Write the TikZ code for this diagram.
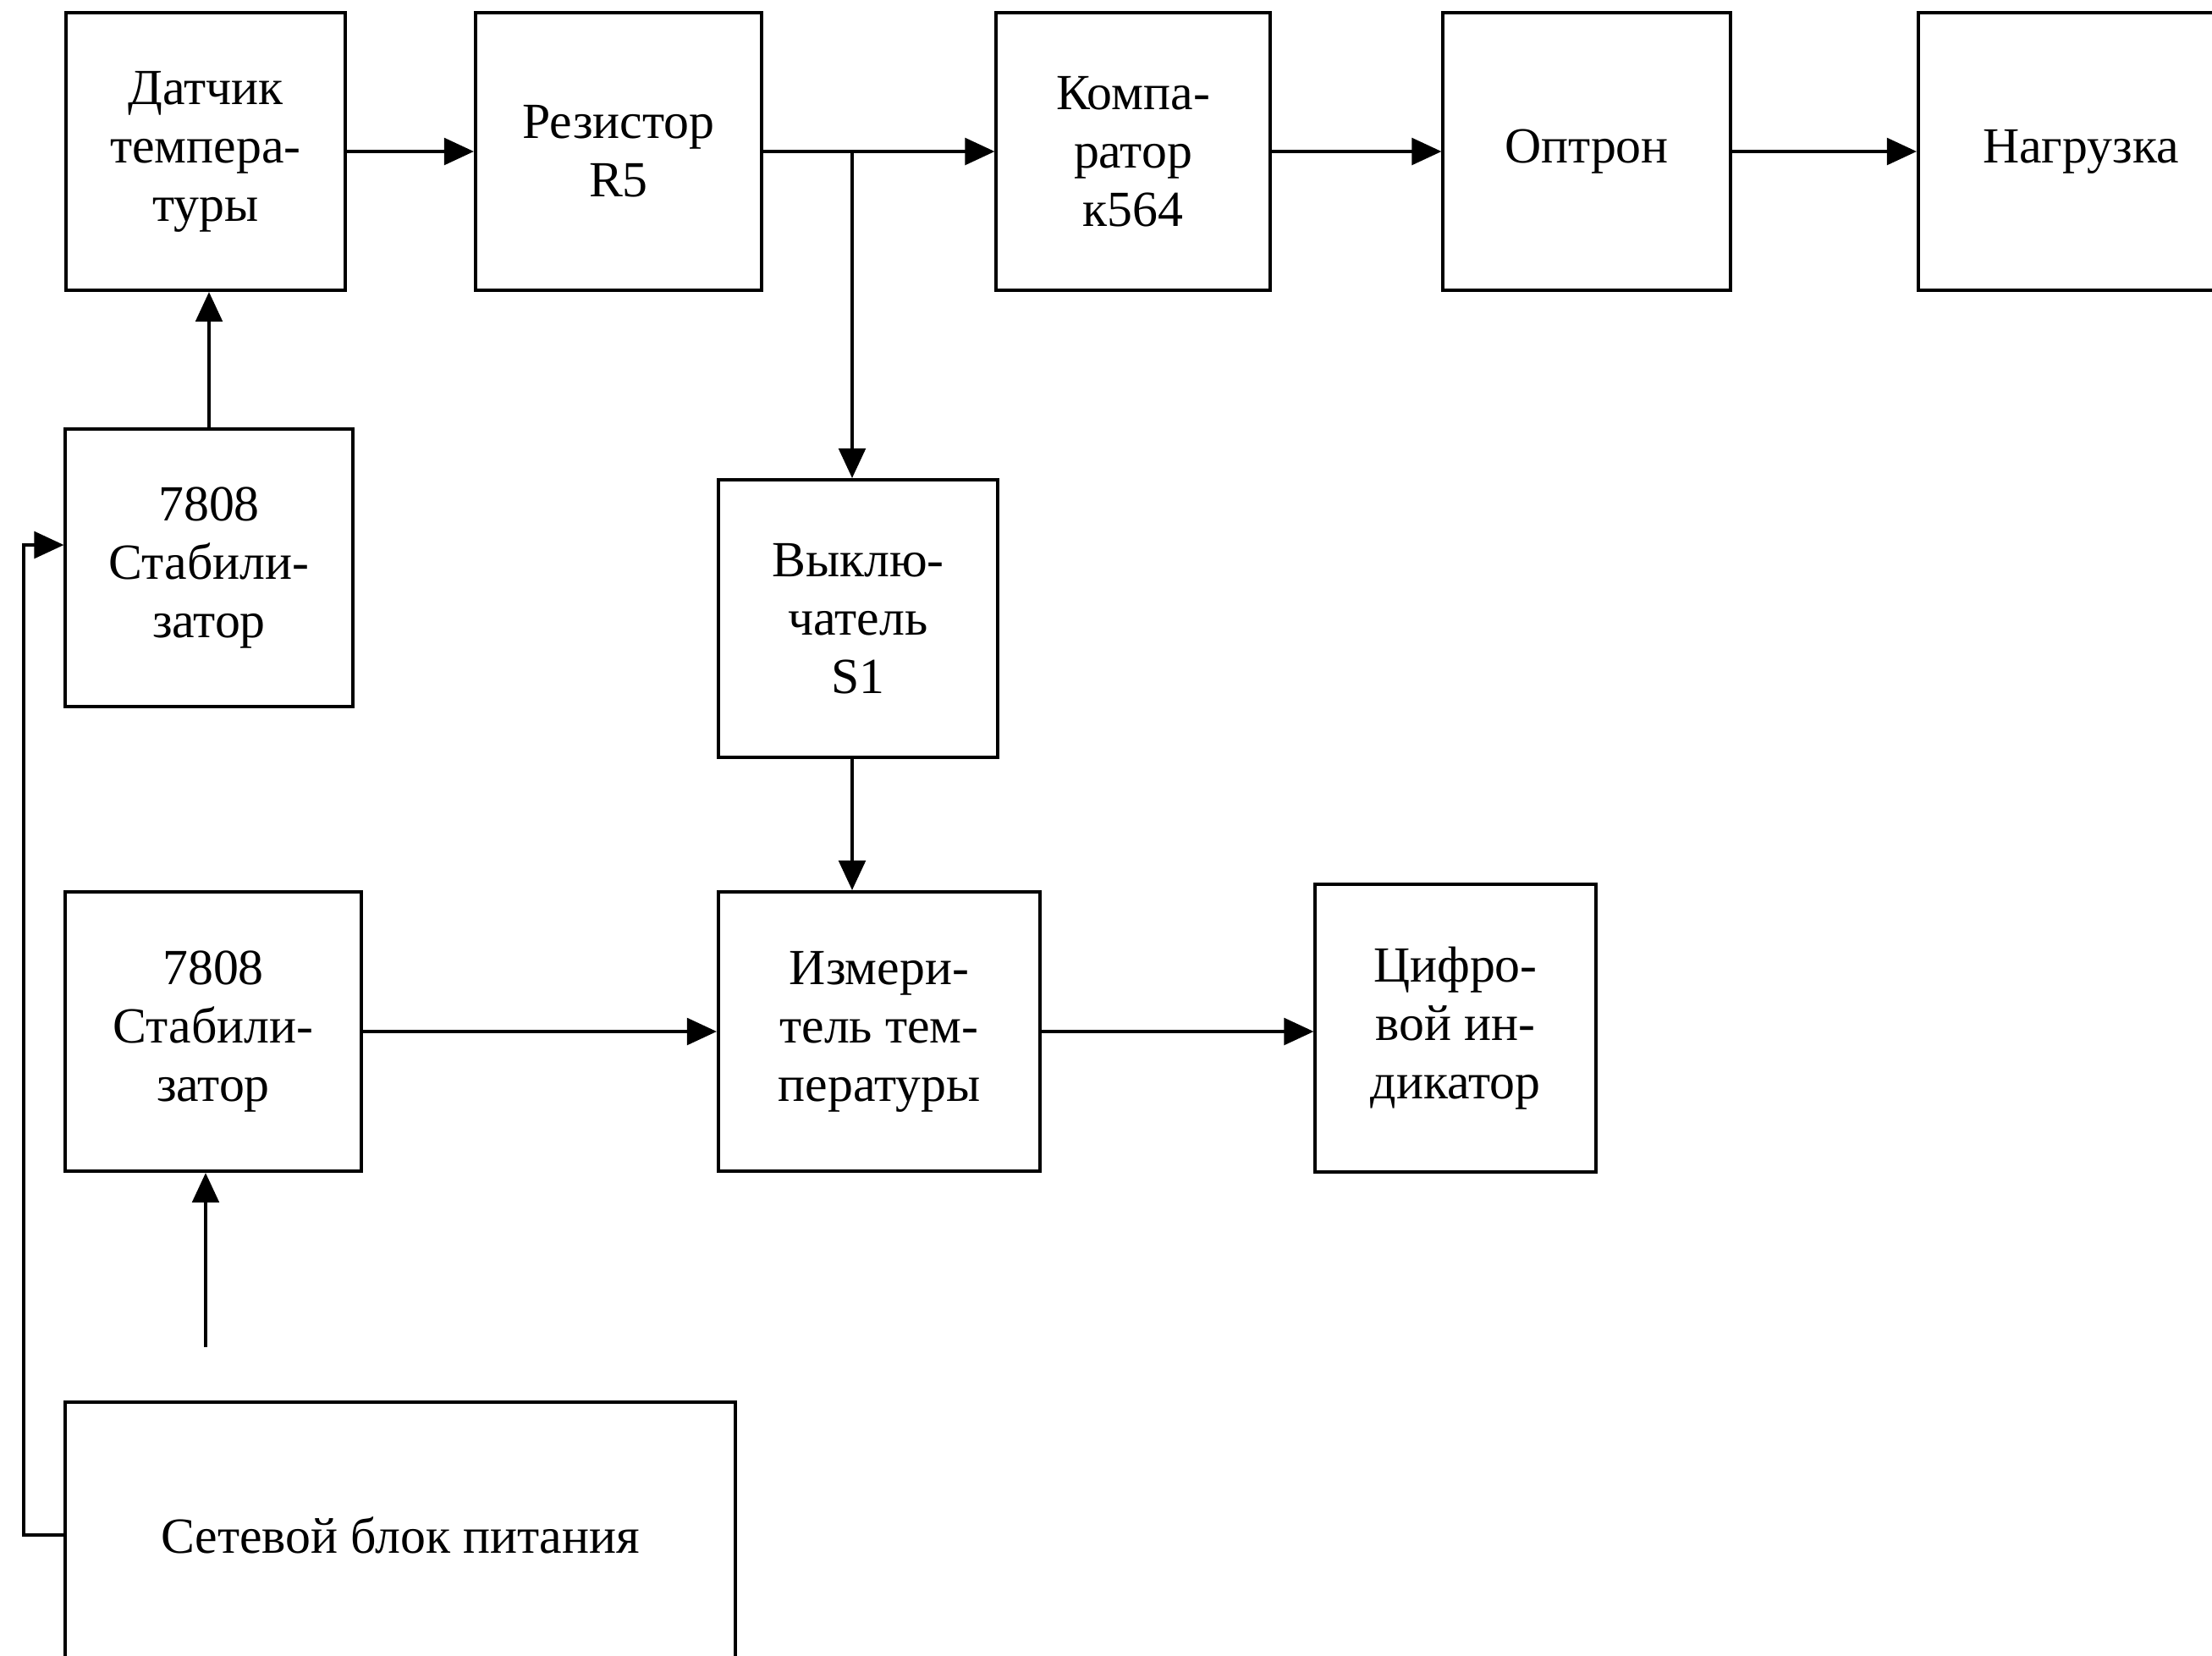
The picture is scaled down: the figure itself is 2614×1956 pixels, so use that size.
\documentclass[tikz,border=0pt]{standalone}
\usepackage{fontspec}
\setmainfont{Liberation Serif}
\usetikzlibrary{arrows.meta}

\begin{document}
\begin{tikzpicture}[x=0.01cm,y=-0.01cm,
    blok/.style={rectangle,draw,line width=1.1pt,align=center,inner sep=2pt,
      font=\fontsize{17}{19.6}\selectfont},
    pil/.style={line width=1.1pt,-{Triangle[length=10pt,width=9pt]}}]
  \useasboundingbox (0,0) rectangle (2614,1956);
  % top row
  \node[blok,minimum width=3.30cm,minimum height=3.28cm] (datchik) at (243,179) {Датчик\\темпера-\\туры};
  \node[blok,minimum width=3.38cm,minimum height=3.28cm] (rez) at (731,179) {Резистор\\R5};
  \node[blok,minimum width=3.23cm,minimum height=3.28cm] (komp) at (1339,179) {Компа-\\ратор\\к564};
  \node[blok,minimum width=3.39cm,minimum height=3.28cm] (optron) at (1875,179) {Оптрон};
  \node[blok,minimum width=3.84cm,minimum height=3.28cm] (nagr) at (2459,179) {Нагрузка};
  % middle
  \node[blok,minimum width=3.39cm,minimum height=3.28cm] (stab1) at (247,671) {7808\\Стабили-\\затор};
  \node[blok,minimum width=3.30cm,minimum height=3.28cm] (vykl) at (1014,731) {Выклю-\\чатель\\S1};
  % bottom row
  \node[blok,minimum width=3.49cm,minimum height=3.30cm] (stab2) at (252,1219) {7808\\Стабили-\\затор};
  \node[blok,minimum width=3.80cm,minimum height=3.30cm] (izm) at (1039,1219) {Измери-\\тель тем-\\пературы};
  \node[blok,minimum width=3.31cm,minimum height=3.39cm] (cifr) at (1720,1215) {Цифро-\\вой ин-\\дикатор};
  \node[blok,minimum width=7.91cm,minimum height=3.14cm] (set) at (473,1814) {Сетевой блок питания};

  \coordinate (razv) at (1007,179);
  \coordinate (ot) at (243,1592);

  \draw[pil] (datchik) -- (rez);
  \draw[pil] (rez) -- (komp);
  \draw[pil] (komp) -- (optron);
  \draw[pil] (optron) -- (nagr);
  \draw[pil] (razv) -- (razv |- vykl.north);
  \draw[pil] (razv |- vykl.south) -- (razv |- izm.north);
  \draw[pil] (stab1.north) -- (stab1.north |- datchik.south);
  \draw[pil] (set.west) -| (28,644) -- (stab1.west |- 28,644);
  \draw[pil] (ot) -- (ot |- stab2.south);
  \draw[pil] (stab2) -- (izm);
  \draw[pil] (izm.east) -- (izm.east -| cifr.west);
\end{tikzpicture}
\end{document}
